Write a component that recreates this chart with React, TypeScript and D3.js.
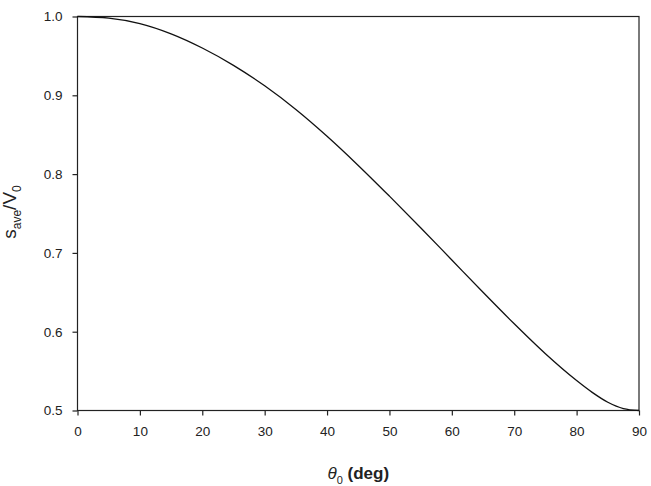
import React, { useEffect, useRef } from 'react';
import * as d3 from 'd3';

// theta_0 in degrees (every 5 deg, denser near the end)
const thetaDeg = [0, 5, 10, 15, 20, 25, 30, 35, 40, 45, 50, 55, 60, 65, 70, 75, 80, 82.5, 85, 87.5, 90];
const sRatio = [1.0, 0.998, 0.991, 0.978, 0.960, 0.938, 0.912, 0.882, 0.848, 0.811, 0.772, 0.732, 0.691, 0.650, 0.610, 0.572, 0.538, 0.523, 0.5105, 0.5025, 0.5];

const xTicks = [0, 10, 20, 30, 40, 50, 60, 70, 80, 90];
const yTicks = [0.5, 0.6, 0.7, 0.8, 0.9, 1.0];

const App: React.FC = () => {
  const svgRef = useRef<SVGSVGElement | null>(null);

  useEffect(() => {
    document.body.style.margin = '0';
    if (!svgRef.current) return;

    const svg = d3.select(svgRef.current);
    const width = 651;
    const height = 486;
    const margin = { top: 16.5, right: 12, bottom: 75.5, left: 77.5 };
    const innerWidth = width - margin.left - margin.right;
    const innerHeight = height - margin.top - margin.bottom;
    const font = '"Liberation Sans", Arial, sans-serif';
    const ink = '#222';

    svg.selectAll('*').remove();

    const g = svg.append('g')
      .attr('transform', `translate(${margin.left},${margin.top})`);

    const x = d3.scaleLinear().domain([0, 90]).range([0, innerWidth]);
    const y = d3.scaleLinear().domain([0.5, 1.0]).range([innerHeight, 0]);

    // X axis
    const xAxis = g.append('g')
      .attr('transform', `translate(0,${innerHeight})`)
      .call(d3.axisBottom(x).tickValues(xTicks).tickFormat(d3.format('d')).tickSize(5).tickSizeOuter(0).tickPadding(11));

    // Y axis
    const yAxis = g.append('g')
      .call(d3.axisLeft(y).tickValues(yTicks).tickFormat(d3.format('.1f')).tickSize(5).tickSizeOuter(0).tickPadding(10));

    [xAxis, yAxis].forEach(ax => {
      ax.select('.domain').remove();
      ax.selectAll('line').attr('stroke', ink).attr('stroke-width', 1.2);
      ax.selectAll('text')
        .attr('fill', ink)
        .style('font-family', font)
        .style('font-size', '13.5px');
    });

    // frame
    g.append('rect')
      .attr('x', 0)
      .attr('y', 0)
      .attr('width', innerWidth)
      .attr('height', innerHeight)
      .attr('fill', 'none')
      .attr('stroke', ink)
      .attr('stroke-width', 1.2);

    // curve
    const line = d3.line<number>()
      .x((_, i) => x(thetaDeg[i]))
      .y(d => y(d))
      .curve(d3.curveMonotoneX);

    g.append('path')
      .datum(sRatio)
      .attr('fill', 'none')
      .attr('stroke', '#111')
      .attr('stroke-width', 1.3)
      .attr('d', line);

    // X title: theta_0 (deg)
    const xt = svg.append('text')
      .attr('x', margin.left + innerWidth / 2)
      .attr('y', 479)
      .attr('text-anchor', 'middle')
      .attr('fill', ink)
      .style('font-family', font)
      .style('font-size', '17px')
      .style('font-weight', 'bold');
    xt.append('tspan').style('font-style', 'italic').style('font-weight', 'normal').text('θ');
    xt.append('tspan').attr('dy', 5).style('font-size', '11px').style('font-weight', 'normal').text('0');
    xt.append('tspan').attr('dy', -5).text(' (deg)');

    // Y title: s_ave / V_0
    const yt = svg.append('text')
      .attr('transform', `translate(16,212) rotate(-90)`)
      .attr('text-anchor', 'middle')
      .attr('fill', ink)
      .style('font-family', font)
      .style('font-size', '19px');
    yt.append('tspan').text('s');
    yt.append('tspan').attr('dy', 5).style('font-size', '12px').text('ave');
    yt.append('tspan').attr('dy', -5).text('/V');
    yt.append('tspan').attr('dy', 5).style('font-size', '12px').text('0');
  }, []);

  return (
    <svg ref={svgRef} width={651} height={486} style={{ display: 'block', background: '#fff' }} />
  );
};

export default App;
